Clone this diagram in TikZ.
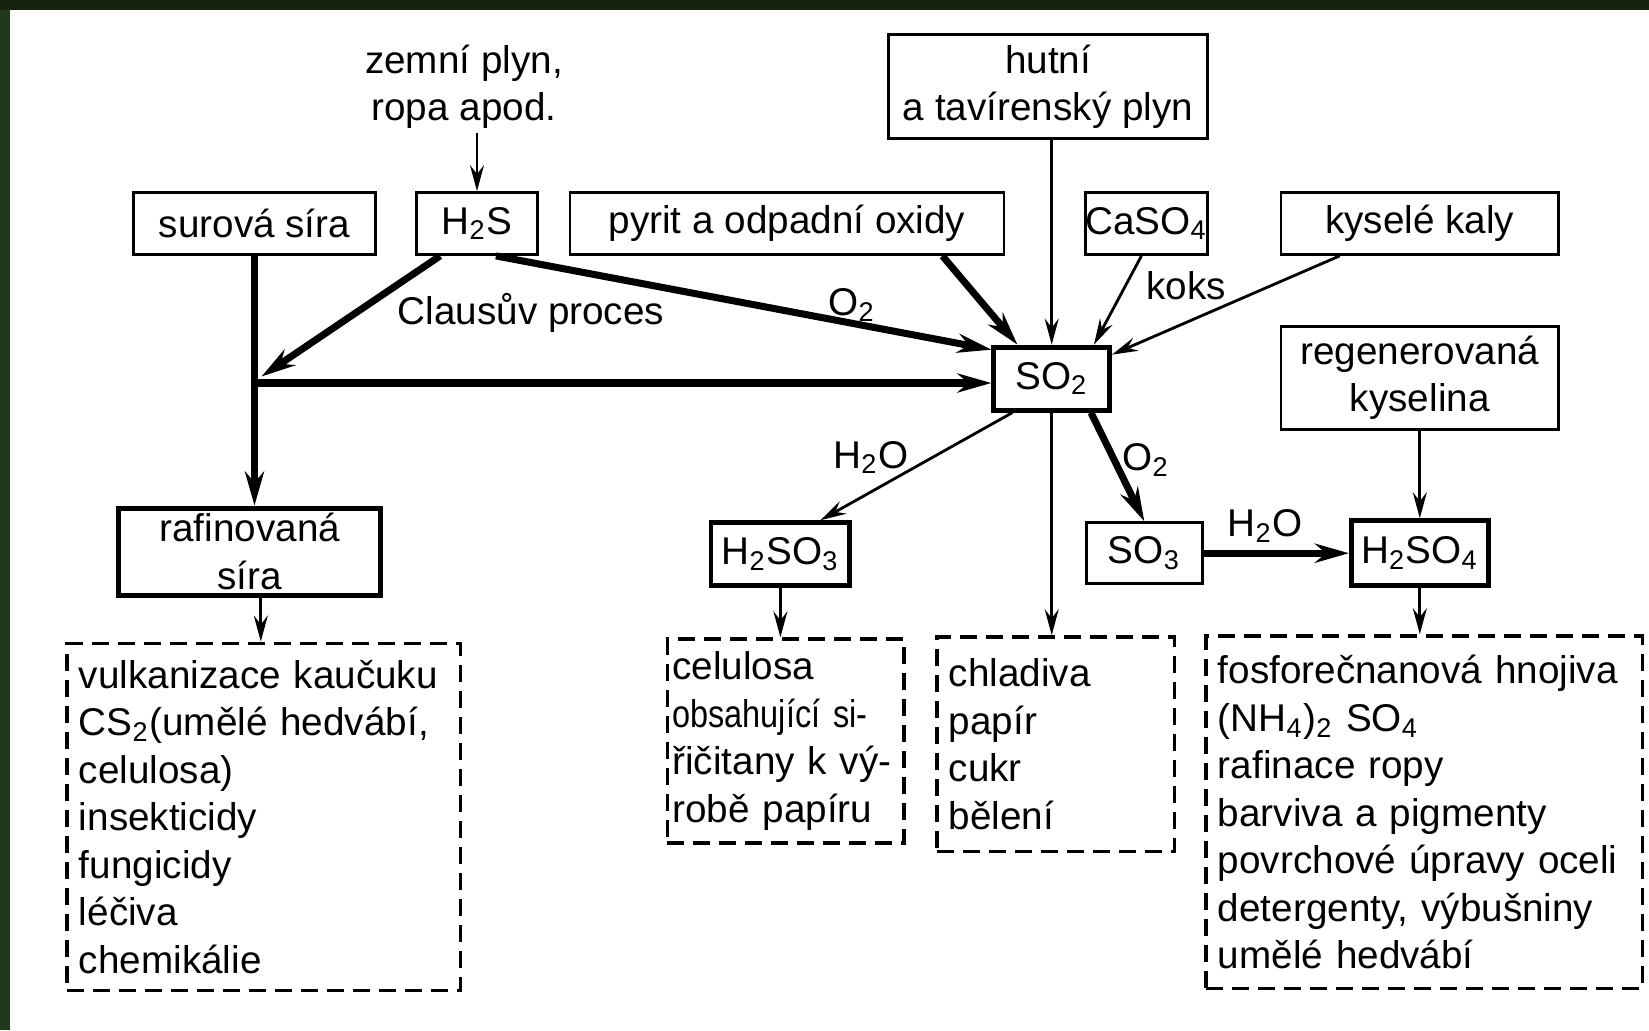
\documentclass[tikz,border=0pt]{standalone}
\usepackage{fontspec}
\setmainfont{Liberation Sans}
\newfontfamily\narrowsans{Liberation Sans}[FakeStretch=0.84]
\usetikzlibrary{arrows.meta}
\definecolor{frametop}{HTML}{16240F}
\definecolor{frameleft}{HTML}{1F3A1B}
\newcommand{\ix}[1]{\textsubscript{#1}}
\tikzset{
  box/.style={draw, line width=0.8pt, inner sep=0pt, minimum height=0.62cm, align=center},
  mainbox/.style={box, line width=1.4pt},
  usebox/.style={draw, line width=1pt, dash pattern=on 1.7mm off 0.9mm, anchor=north west, align=left, inner ysep=0pt},
  thinarrow/.style={line width=0.8pt, -{Stealth[length=2.6mm,width=1.4mm,inset=0.9mm]}},
  thickarrow/.style={line width=2pt, -{Stealth[length=3.4mm,width=1.9mm,inset=1.1mm]}}
}
\begin{document}
\begin{tikzpicture}[font=\fontsize{11}{13.5}\selectfont]
      \useasboundingbox (0,0) rectangle (16.49,-10.30);
      \fill[white] (0,0) rectangle (16.49,-10.30);
      \fill[frametop] (0,0) rectangle (16.49,-0.10);
      \fill[frameleft] (0,-0.10) rectangle (0.10,-10.30);
\node [align=center, inner sep=1pt] (zemni) at (4.64,-0.87) {zemní plyn,\\ropa apod.};
\node [box, minimum width=2.42cm] (surova) at (2.545,-2.235) {surová síra};
\node [box, minimum width=1.21cm] (h2s) at (4.77,-2.235) {H\ix{2}S};
\node [box, minimum width=4.34cm] (pyrit) at (7.87,-2.235) {pyrit a odpadní oxidy};
\node [box, minimum width=3.19cm, minimum height=1.04cm] (hutni) at (10.48,-0.868) {hutní\\a tavírenský plyn};
\node [box, minimum width=1.157cm] (caso4) at (11.464,-2.235) {CaSO\ix{4}};
\node [box, minimum width=2.776cm] (kysele) at (14.198,-2.235) {kyselé kaly};
\node [mainbox, minimum width=1.156cm, minimum height=0.63cm] (so2) at (10.517,-3.786) {SO\ix{2}};
\node [box, minimum width=2.776cm, minimum height=1.03cm] (regen) at (14.198,-3.777) {regenerovaná\\kyselina};
\node [mainbox, minimum width=2.62cm, minimum height=0.87cm] (rafin) at (2.498,-5.516) {rafinovaná\\síra};
\node [mainbox, minimum width=1.388cm, minimum height=0.63cm] (h2so3) at (7.804,-5.542) {H\ix{2}SO\ix{3}};
\node [box, minimum width=1.157cm, minimum height=0.61cm] (so3) at (11.443,-5.532) {SO\ix{3}};
\node [mainbox, minimum width=1.367cm, minimum height=0.65cm] (h2so4) at (14.198,-5.532) {H\ix{2}SO\ix{4}};
\node [usebox, inner xsep=0.12cm, text width=3.693cm, minimum height=3.471cm] (use1) at (0.652,-6.415)
  {vulkanizace kaučuku\\CS\ix{2}(umělé hedvábí,\\celulosa)\\insekticidy\\fungicidy\\léčiva\\chemikálie};
\node [usebox, inner xsep=0.05cm, text width=2.267cm, minimum height=2.041cm] (use2) at (6.657,-6.373)
  {celulosa\\{\narrowsans obsahující si-}\\řičitany k vý-\\robě papíru};
\node [usebox, inner xsep=0.12cm, text width=2.136cm, minimum height=2.146cm] (use3) at (9.35,-6.352)
  {chladiva\\papír\\cukr\\bělení};
\node [usebox, inner xsep=0.12cm, text width=4.125cm, minimum height=3.523cm] (use4) at (12.042,-6.342)
  {fosforečnanová hnojiva\\(NH\ix{4})\ix{2} SO\ix{4}\\rafinace ropy\\barviva a pigmenty\\povrchové úpravy oceli\\detergenty, výbušniny\\umělé hedvábí};
\node (claus) at (5.31,-3.134) {Clausův proces};
\node (oxy1) at (8.52,-3.05) {O\ix{2}};
\node (koks) at (11.863,-2.86) {koks};
\node (water1) at (8.708,-4.575) {H\ix{2}O};
\node (oxy2) at (11.46,-4.6) {O\ix{2}};
\node (water2) at (12.65,-5.26) {H\ix{2}O};
\coordinate (junc) at (2.545,-3.83);
      \draw[thinarrow] (zemni.south -| h2s.north) -- (h2s.north);
      \draw[thickarrow] (surova.south) -- (surova.south |- rafin.north);
      \draw[thickarrow] ([xshift=0.25cm]h2s.south west) -- ([shift={(0.07,0.065)}]junc);
      \draw[thickarrow] (junc) -- (junc -| so2.west);
      \draw[thickarrow] ([xshift=-0.43cm]h2s.south east) -- ([yshift=-0.05cm]so2.north west);
      \draw[thickarrow] ([xshift=-0.63cm]pyrit.south east) -- ([xshift=0.26cm]so2.north west);
      \draw[thinarrow] (hutni.south -| so2.north) -- (so2.north);
      \draw[thinarrow] ([xshift=-0.05cm]caso4.south) -- ([xshift=-0.18cm]so2.north east);
      \draw[thinarrow] ([xshift=0.6cm]kysele.south west) -- ([yshift=-0.1cm]so2.north east);
      \draw[thinarrow] ([xshift=0.21cm]so2.south west) -- ([xshift=0.4cm]h2so3.north);
      \draw[thickarrow] ([xshift=-0.21cm]so2.south east) -- (so3.north);
      \draw[thickarrow] (so3.east) -- (h2so4.west);
      \draw[thinarrow] (regen.south) -- (h2so4.north);
      \draw[thinarrow] ([xshift=0.11cm]rafin.south) -- ([xshift=0.11cm]rafin.south |- use1.north);
      \foreach \src/\dst in {h2so3/use2, so2/use3, h2so4/use4}
\draw[thinarrow] (\src.south) -- (\src.south |- \dst.north);
    \end{tikzpicture}
\end{document}
